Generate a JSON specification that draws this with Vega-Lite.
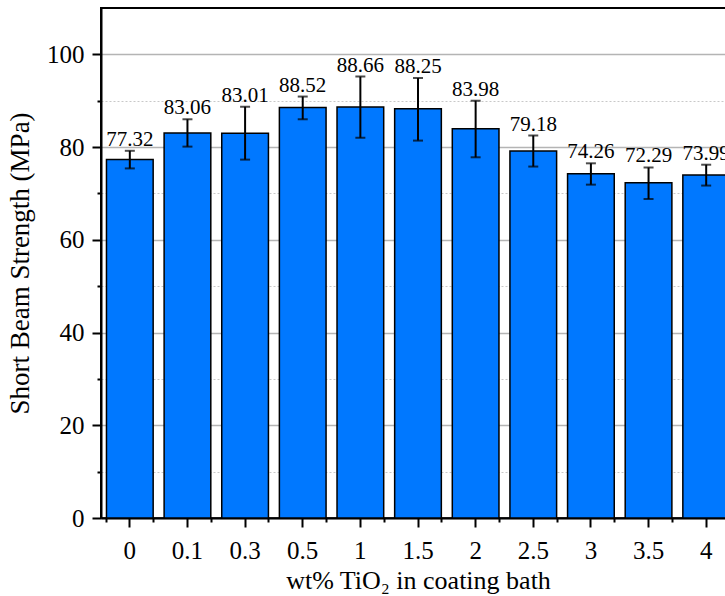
{
  "$schema": "https://vega.github.io/schema/vega-lite/v6.json",
  "autosize": "none",
  "padding": {"left": 101, "top": 8, "right": 0, "bottom": 78},
  "width": 634,
  "height": 510,
  "background": "white",
  "config": {
    "font": "Liberation Serif",
    "view": {"stroke": "black", "strokeWidth": 2},
    "axis": {
      "labelFont": "Liberation Serif",
      "titleFont": "Liberation Serif",
      "labelColor": "black",
      "titleColor": "black",
      "domainColor": "black",
      "tickColor": "black",
      "domainWidth": 2,
      "tickWidth": 2,
      "titleFontWeight": "normal"
    }
  },
  "data": {
    "values": [
      {"wt": "0", "value": 77.32, "lo": 75.4, "hi": 79.2},
      {"wt": "0.1", "value": 83.06, "lo": 80.1, "hi": 86.0},
      {"wt": "0.3", "value": 83.01, "lo": 77.3, "hi": 88.7},
      {"wt": "0.5", "value": 88.52, "lo": 86.0, "hi": 90.9},
      {"wt": "1", "value": 88.66, "lo": 82.0, "hi": 95.2},
      {"wt": "1.5", "value": 88.25, "lo": 81.4, "hi": 94.9},
      {"wt": "2", "value": 83.98, "lo": 77.8, "hi": 90.0},
      {"wt": "2.5", "value": 79.18, "lo": 75.8, "hi": 82.5},
      {"wt": "3", "value": 74.26, "lo": 71.9, "hi": 76.5},
      {"wt": "3.5", "value": 72.29, "lo": 68.8, "hi": 75.6},
      {"wt": "4", "value": 73.99, "lo": 71.7, "hi": 76.2}
    ]
  },
  "layer": [
    {
      "mark": {"type": "bar", "fill": "#0078ff", "stroke": "black", "strokeWidth": 1.5},
      "encoding": {
        "x": {
          "field": "wt", "type": "nominal", "sort": null,
          "scale": {"paddingInner": 0.19, "paddingOuter": 0.095},
          "axis": {
            "orient": "bottom",
            "title": "wt% TiO₂ in coating bath",
            "labelAngle": 0, "labelFontSize": 25, "titleFontSize": 26,
            "tickSize": 9, "labelPadding": 11, "titlePadding": 4, "grid": false
          }
        },
        "y": {
          "field": "value", "type": "quantitative",
          "scale": {"domain": [0, 110], "nice": false, "zero": true},
          "axis": {
            "title": "Short Beam Strength (MPa)",
            "titleFontSize": 27, "titlePadding": 12,
            "values": [0, 10, 20, 30, 40, 50, 60, 70, 80, 90, 100],
            "labelExpr": "datum.value % 20 === 0 ? datum.label : ''",
            "labelFontSize": 25, "labelPadding": 8,
            "tickSize": {"condition": {"test": "datum.value % 20 === 0", "value": 9}, "value": 4},
            "grid": true,
            "gridColor": {"condition": {"test": "datum.value % 20 === 0", "value": "#b4b4b4"}, "value": "#c8c8c8"},
            "gridDash": {"condition": {"test": "datum.value % 20 === 0", "value": []}, "value": [2, 2]},
            "gridWidth": {"condition": {"test": "datum.value % 20 === 0", "value": 1.5}, "value": 1}
          }
        }
      }
    },
    {
      "mark": {"type": "errorbar", "color": "black", "thickness": 2, "ticks": {"size": 10, "thickness": 2, "color": "black"}},
      "encoding": {
        "x": {"field": "wt", "type": "nominal", "sort": null, "axis": null},
        "y": {"field": "lo", "type": "quantitative", "title": "Short Beam Strength (MPa)"},
        "y2": {"field": "hi"}
      }
    },
    {
      "mark": {"type": "text", "baseline": "alphabetic", "dy": -5, "fontSize": 21, "font": "Liberation Serif", "color": "black"},
      "encoding": {
        "x": {"field": "wt", "type": "nominal", "sort": null, "axis": null},
        "y": {"field": "hi", "type": "quantitative", "title": "Short Beam Strength (MPa)"},
        "text": {"field": "value", "type": "quantitative", "format": ".2f"}
      }
    },
    {
      "mark": {"type": "bar", "opacity": 0},
      "encoding": {
        "x": {
          "field": "wt", "type": "nominal", "sort": null,
          "axis": {"orient": "bottom", "tickBand": "extent", "labels": false, "title": null, "domain": false, "tickSize": 4, "grid": false}
        },
        "y": {"field": "value", "type": "quantitative", "title": "Short Beam Strength (MPa)"}
      }
    }
  ],
  "resolve": {"axis": {"x": "independent"}}
}
